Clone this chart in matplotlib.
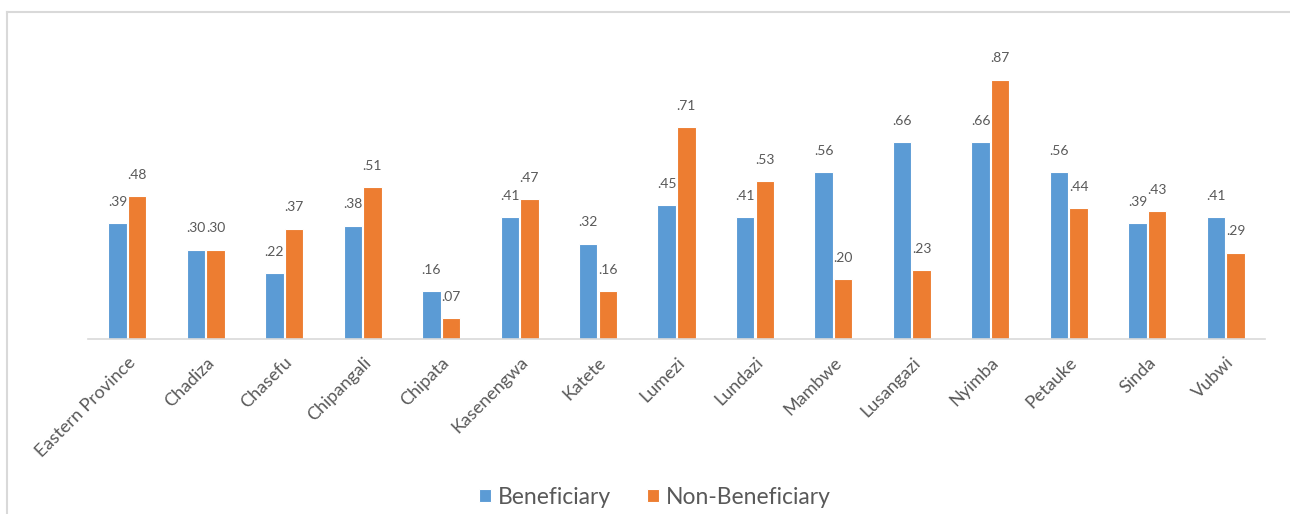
import matplotlib
matplotlib.use("Agg")
import matplotlib.pyplot as plt
import numpy as np
from matplotlib.lines import Line2D

categories = ["Eastern Province", "Chadiza", "Chasefu", "Chipangali", "Chipata",
              "Kasenengwa", "Katete", "Lumezi", "Lundazi", "Mambwe", "Lusangazi",
              "Nyimba", "Petauke", "Sinda", "Vubwi"]
beneficiary = [0.39, 0.30, 0.22, 0.38, 0.16, 0.41, 0.32, 0.45, 0.41, 0.56, 0.66, 0.66, 0.56, 0.39, 0.41]
non_beneficiary = [0.48, 0.30, 0.37, 0.51, 0.07, 0.47, 0.16, 0.71, 0.53, 0.20, 0.23, 0.87, 0.44, 0.43, 0.29]
series_names = ["Beneficiary", "Non-Beneficiary"]

plt.rcParams['font.family'] = ['Lato', 'DejaVu Sans']
W, H = 1290, 514
fig = plt.figure(figsize=(W / 100, H / 100), dpi=100)
ax = fig.add_axes([88 / W, 1 - 339 / H, (1265 - 88) / W, 298 / H])

blue = "#5B9BD5"
orange = "#ED7D31"
gray_text = "#595959"

x = np.arange(len(categories))
bw = 0.235
b1 = ax.bar(x - 0.125, beneficiary, bw, color=blue, edgecolor="white", linewidth=0.8, label=series_names[0])
b2 = ax.bar(x + 0.125, non_beneficiary, bw, color=orange, edgecolor="white", linewidth=0.8, label=series_names[1])

def fmt(v):
    s = f"{v:.2f}"
    return s[1:] if s.startswith("0") else s

for bars, vals in ((b1, beneficiary), (b2, non_beneficiary)):
    for r, v in zip(bars, vals):
        ax.annotate(fmt(v), (r.get_x() + r.get_width() / 2, r.get_height()),
                    xytext=(0, 11), textcoords="offset points", ha="center", va="bottom",
                    fontsize=10, color=gray_text)

ax.set_xlim(-0.5, len(categories) - 0.5)
ax.set_ylim(0, 1.0)
ax.set_yticks([])
for s in ["top", "right", "left"]:
    ax.spines[s].set_visible(False)
ax.spines["bottom"].set_color("#D9D9D9")
ax.spines["bottom"].set_linewidth(1.2)
ax.set_xticks(x)
ax.set_xticklabels(categories, rotation=45, ha="right", rotation_mode="anchor",
                   fontsize=13, color=gray_text)
ax.tick_params(axis="x", length=0, pad=11)

leg = fig.legend(handles=[b1, b2], labels=series_names, loc="center",
                 bbox_to_anchor=(655 / W, 1 - 497 / H), ncol=2, frameon=False,
                 fontsize=16.5, handlelength=0.5, handleheight=0.5, handletextpad=0.3,
                 columnspacing=1.6)
for t in leg.get_texts():
    t.set_color(gray_text)

fig.add_artist(Line2D([7 / W, 1], [1 - 12 / H, 1 - 12 / H], transform=fig.transFigure,
                      color="#D9D9D9", linewidth=1.5))
fig.add_artist(Line2D([7 / W, 7 / W], [0, 1 - 12 / H], transform=fig.transFigure,
                      color="#D9D9D9", linewidth=1.5))

fig.savefig("out.png", dpi=100, facecolor="white")
